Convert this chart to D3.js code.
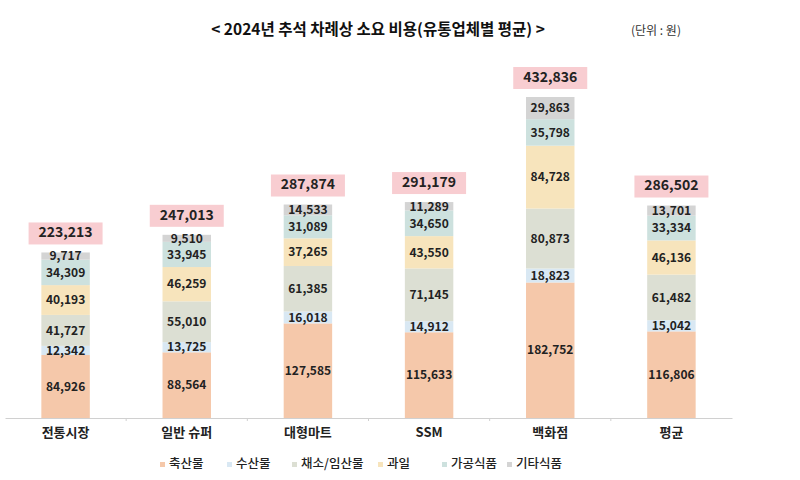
<!DOCTYPE html>
<html><head><meta charset="utf-8">
<script src="https://cdn.jsdelivr.net/npm/d3@7"></script>
<style>body{margin:0;background:#fff;}svg{display:block;font-family:"Noto Sans CJK KR","Noto Sans",sans-serif;}</style>
</head><body><svg id="c" width="800" height="480"></svg>
<script>
const categories = ["전통시장", "일반 슈퍼", "대형마트", "SSM", "백화점", "평균"];
const seriesNames = ["축산물", "수산물", "채소/임산물", "과일", "가공식품", "기타식품"];
const livestock = [84926, 88564, 127585, 115633, 182752, 116806];
const seafood = [12342, 13725, 16018, 14912, 18823, 15042];
const vegetables = [41727, 55010, 61385, 71145, 80873, 61482];
const fruit = [40193, 46259, 37265, 43550, 84728, 46136];
const processed = [34309, 33945, 31089, 34650, 35798, 33334];
const others = [9717, 9510, 14533, 11289, 29863, 13701];
const totals = [223213, 247013, 287874, 291179, 432836, 286502];
const colors = ["#f5c8aa", "#d9e8f3", "#dcdfd3", "#f7e4bc", "#cde1de", "#d4d4d4"];

const seriesValues = [livestock, seafood, vegetables, fruit, processed, others];
const rows = categories.map((c, i) => {
  const r = {cat: c, total: totals[i]};
  seriesNames.forEach((s, j) => r[s] = seriesValues[j][i]);
  return r;
});

const svg = d3.select("#c");
const fmt = d3.format(",");

const x = d3.scaleBand().domain(categories).range([5, 732]).paddingInner(0.6).paddingOuter(0.3);
const y = d3.scaleLinear().domain([0, 432836]).range([418, 97]);

const stack = d3.stack().keys(seriesNames)(rows);

// title
svg.append("text").attr("x", 378).attr("y", 35).attr("text-anchor", "middle")
  .attr("font-size", 15.5).attr("font-weight", 700).attr("fill", "#111")
  .text("< 2024년 추석 차례상 소요 비용(유통업체별 평균) >");
svg.append("text").attr("x", 656).attr("y", 35).attr("text-anchor", "middle")
  .attr("font-size", 12).attr("fill", "#333").text("(단위 : 원)");

// bars
const g = svg.append("g");
stack.forEach((layer, j) => {
  g.selectAll(null).data(layer).enter().append("rect")
    .attr("x", d => x(d.data.cat))
    .attr("width", x.bandwidth())
    .attr("y", d => y(d[1]))
    .attr("height", d => y(d[0]) - y(d[1]))
    .attr("fill", colors[j]);
});
stack.forEach((layer, j) => {
  g.selectAll(null).data(layer).enter().append("text")
    .attr("x", d => x(d.data.cat) + x.bandwidth() / 2)
    .attr("y", d => (y(d[0]) + y(d[1])) / 2 + 1)
    .attr("dominant-baseline", "middle")
    .attr("text-anchor", "middle")
    .attr("font-size", 12).attr("font-weight", 700).attr("fill", "#222")
    .text(d => fmt(d[1] - d[0]));
});

// totals
const tg = svg.append("g");
rows.forEach(r => {
  const cx = x(r.cat) + x.bandwidth() / 2;
  const top = y(r.total);
  tg.append("rect").attr("x", cx - 37).attr("y", top - 30).attr("width", 74).attr("height", 22)
    .attr("fill", "#f8cdd1");
  tg.append("text").attr("x", cx).attr("y", top - 19).attr("dominant-baseline", "middle")
    .attr("text-anchor", "middle").attr("font-size", 14).attr("font-weight", 700).attr("fill", "#222")
    .text(fmt(r.total));
});

// axis
const axis = d3.axisBottom(x).tickSize(0).tickPadding(10);
const ag = svg.append("g").attr("transform", "translate(0,418)").call(axis);
ag.select(".domain").attr("stroke", "#d0d0d0");
ag.selectAll(".tick text").attr("font-size", 13).attr("font-weight", 600).attr("fill", "#222")
  .attr("font-family", '"Noto Sans CJK KR","Noto Sans",sans-serif');
// boundary ticks
const step = x.step();
ag.selectAll(".bt").data(categories.slice(1)).enter().append("line")
  .attr("x1", d => x(d) - step * x.paddingInner() / 2).attr("x2", d => x(d) - step * x.paddingInner() / 2)
  .attr("y1", 0).attr("y2", 3).attr("stroke", "#d0d0d0");

// legend
const legX = [160, 227, 292, 378, 442, 507];
const lg = svg.append("g");
seriesNames.forEach((s, j) => {
  lg.append("rect").attr("x", legX[j]).attr("y", 462).attr("width", 5).attr("height", 5).attr("fill", colors[j]);
  lg.append("text").attr("x", legX[j] + 9).attr("y", 465).attr("dominant-baseline", "middle")
    .attr("font-size", 12.5).attr("font-weight", 500).attr("fill", "#222").text(s);
});
</script></body></html>
